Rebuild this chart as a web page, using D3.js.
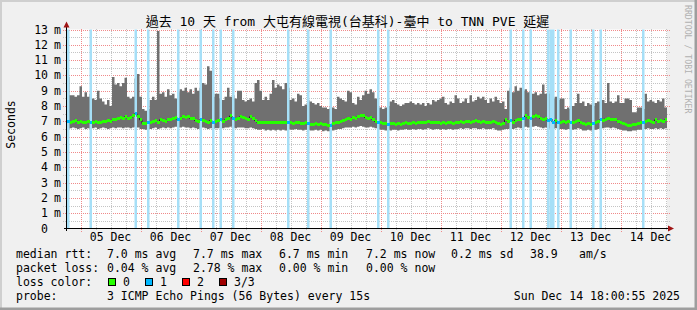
<!DOCTYPE html>
<html>
<head>
<meta charset="utf-8">
<script src="https://cdn.jsdelivr.net/npm/d3@7"></script>
<style>
body{margin:0;background:#f0f0f0}
svg text{font-family:"DejaVu Sans Mono","Noto Sans CJK TC",monospace;fill:#000}
</style>
</head>
<body>
<svg width="697" height="310"></svg>
<script>
// hourly smokeping values (ms), 240 hours
var topMs = [
 9.9,8.7,8.7,8.6,8.7,9.3,8.6,8.9,8.6,8.8, 8.5,8.4,9.0,8.5,8.3,8.1,8.4,8.0,9.9,9.4,
 9.5,9.3,9.5,9.85,8.6,8.5,8.6,9.8,10.1,8.6, 7.8,7.7,7.8,8.4,8.6,8.4,12.9,8.8,8.9,8.6,
 9.1,8.7,8.8,8.5,8.9,9.1,9.0,9.2,8.9,9.1, 8.8,9.2,9.0,9.2,9.5,9.4,10.6,10.3,8.6,8.8,
 8.8,8.5,8.4,8.6,9.2,8.6,8.7,8.5,9.0,9.0, 8.4,8.3,8.4,8.5,8.3,9.5,9.7,9.0,8.4,8.6,
 8.4,8.8,9.7,9.2,9.4,9.3,9.1,9.5,9.2,8.4, 8.5,8.3,8.8,8.7,8.0,8.1,8.4,8.3,8.2,8.1,
 8.2,8.0,7.9,7.9,7.8,7.9,7.9,7.8,8.6,8.5, 8.4,8.3,9.0,8.9,8.2,8.1,8.6,8.4,8.7,9.0,
 8.8,9.1,8.9,8.5,7.9,7.9,7.8,7.9,8.0,8.3, 8.4,8.2,8.1,8.0,8.1,8.2,8.2,8.3,8.2,8.1,
 8.2,8.1,8.2,8.0,8.2,8.1,8.4,8.3,8.4,8.5, 8.6,8.2,8.1,8.3,8.2,8.7,8.5,8.2,8.3,8.5,
 8.2,8.7,8.3,8.4,8.6,8.5,8.6,8.4,8.2,8.5, 8.3,8.6,8.4,8.2,8.3,7.8,9.0,9.2,8.9,9.3,
 9.0,9.2,9.0,9.1,8.9,9.0,8.8,8.9,8.7,8.8, 9.4,8.8,8.9,8.8,8.5,8.6,8.4,8.5,8.5,7.8,
 7.9,7.8,8.0,8.2,8.8,8.2,8.3,8.0,8.2,8.1, 8.0,8.2,8.3,8.3,8.4,8.2,9.5,8.3,8.2,8.3,
 8.7,8.2,8.2,8.5,8.5,8.4,7.6,7.6,7.9,7.9, 7.8,8.8,8.3,8.4,8.3,8.2,8.4,8.3,8.5,7.9
];
var medianMs = [
 7.0,6.95,7.0,7.05,6.95,7.0,6.9,6.95,7.0,6.9, 6.95,7.0,6.9,6.95,7.0,7.0,7.05,7.0,7.1,7.15,
 7.2,7.25,7.2,7.3,7.2,7.25,7.35,7.5,7.3,7.1, 6.85,6.85,6.9,6.9,7.0,7.05,6.95,7.1,7.05,7.0,
 7.1,7.15,7.2,7.25,7.1,7.2,7.3,7.25,7.3,7.2, 7.2,7.05,7.0,7.1,7.05,7.0,6.95,7.05,6.95,7.0,
 7.05,7.1,7.0,7.1,7.2,7.35,7.2,7.1,7.2,7.3, 7.25,7.2,7.1,7.3,7.2,7.05,6.9,6.9,6.95,6.9,
 6.9,6.95,6.9,6.9,6.9,6.95,6.9,6.9,6.95,6.9, 6.85,6.9,6.9,6.85,6.85,6.9,6.85,6.8,6.8,6.85,
 6.8,6.85,6.8,6.8,6.75,6.75,6.85,6.9,6.95,7.0, 7.05,7.1,7.2,7.15,7.25,7.2,7.3,7.35,7.4,7.25,
 7.2,7.25,7.1,7.0,6.95,6.9,6.85,6.85,6.8,6.85, 6.85,6.8,6.85,6.8,6.85,6.9,6.85,6.85,6.9,6.85,
 6.9,6.95,6.9,6.95,7.0,6.95,6.9,6.95,6.9,6.85, 6.9,6.85,6.9,6.9,6.85,6.9,6.95,7.0,6.95,7.0,
 7.0,6.95,7.0,7.05,7.0,6.95,7.0,6.95,6.9,6.95, 7.0,6.9,6.85,6.8,6.85,7.1,7.0,7.05,6.95,7.05,
 7.15,7.1,7.2,7.35,7.25,7.2,7.3,7.4,7.3,7.2, 7.1,7.2,7.05,7.15,6.95,7.05,6.9,6.95,7.0,6.9,
 7.0,6.95,6.9,7.0,7.05,6.95,6.85,6.8,6.85,6.8, 6.85,6.9,7.0,7.1,7.05,7.15,7.2,7.1,7.15,7.1,
 7.0,6.9,6.85,6.8,6.75,6.75,6.8,6.8,6.85,6.9, 6.95,7.0,7.05,7.0,6.95,7.1,7.0,7.05,7.0,7.1
];
var bottomMs = [
 6.5,6.55,6.6,6.55,6.5,6.55,6.6,6.5,6.55,6.5, 6.55,6.6,6.5,6.55,6.6,6.55,6.5,6.55,6.6,6.55,
 6.6,6.6,6.55,6.6,6.6,6.55,6.6,6.65,6.6,6.5, 6.5,6.45,6.5,6.5,6.55,6.6,6.5,6.55,6.6,6.55,
 6.6,6.55,6.6,6.65,6.6,6.6,6.65,6.6,6.6,6.55, 6.6,6.55,6.5,6.55,6.6,6.55,6.5,6.55,6.5,6.55,
 6.55,6.6,6.55,6.6,6.6,6.65,6.6,6.55,6.6,6.6, 6.6,6.55,6.55,6.6,6.55,6.5,6.45,6.45,6.5,6.4,
 6.45,6.4,6.45,6.4,6.45,6.4,6.45,6.4,6.5,6.45, 6.45,6.5,6.45,6.45,6.4,6.45,6.45,6.4,6.4,6.45,
 6.4,6.45,6.35,6.4,6.35,6.35,6.4,6.45,6.5,6.5, 6.55,6.6,6.6,6.6,6.65,6.6,6.65,6.7,6.65,6.6,
 6.6,6.65,6.6,6.55,6.5,6.45,6.45,6.4,6.45,6.4, 6.45,6.45,6.4,6.45,6.45,6.5,6.45,6.45,6.5,6.45,
 6.5,6.5,6.45,6.5,6.55,6.5,6.45,6.5,6.5,6.45, 6.5,6.45,6.5,6.5,6.45,6.5,6.5,6.55,6.5,6.55,
 6.55,6.5,6.55,6.55,6.5,6.5,6.55,6.5,6.5,6.5, 6.55,6.45,6.4,6.4,6.45,6.5,6.5,6.55,6.5,6.55,
 6.6,6.55,6.6,6.65,6.6,6.6,6.65,6.7,6.65,6.6, 6.55,6.6,6.5,6.55,6.5,6.55,6.45,6.5,6.5,6.45,
 6.5,6.5,6.45,6.5,6.55,6.5,6.4,6.4,6.45,6.4, 6.45,6.45,6.5,6.55,6.55,6.6,6.6,6.55,6.6,6.55,
 6.5,6.45,6.4,6.4,6.35,6.35,6.4,6.4,6.45,6.45, 6.5,6.5,6.55,6.5,6.5,6.55,6.5,6.55,6.5,6.55
];
// hours with 1 of 3 pings lost
var lossHours = [0,9,27,32,44,53,58,61,66,88,96,105,124,128,177,182,185,192,193,194,196,201,210,213,230];

var yTicks = [0,1,2,3,4,5,6,7,8,9,10,11,12,13];
var dayLabels = ["05 Dec","06 Dec","07 Dec","08 Dec","09 Dec","10 Dec","11 Dec","12 Dec","13 Dec","14 Dec"];

var rttStats = ["7.0 ms avg","7.7 ms max","6.7 ms min","7.2 ms now","0.2 ms sd"];
var lossStats = ["0.04 % avg","2.78 % max","0.00 % min","0.00 % now"];
var lossNames = ["0","1","2","3/3"];
var lossColors = ["#26ff00","#00b8ff","#ff0000","#a00000"];

var svg = d3.select("svg");
var W = 697, H = 310;

var t0 = new Date(2025,11,4,18,36);
var t1 = new Date(2025,11,14,18,36);
var hour = 3600*1000;
var x = d3.scaleTime().domain([t0,t1]).range([67,667]);
var y = d3.scaleLinear().domain([0,13]).range([228.5,29.5]);

// background + 3d frame
svg.append("rect").attr("width",W).attr("height",H).attr("fill","#f0f0f0");
svg.append("path").attr("d","M0,0H697V2H2V310H0Z").attr("fill","#cfcfcf");
svg.append("path").attr("d","M697,0V310H0V307.5H694.5V0Z").attr("fill","#9e9e9e");
svg.append("rect").attr("x",67).attr("y",29.5).attr("width",600).attr("height",199).attr("fill","#fff");

// grid
var grid = svg.append("g");
d3.range(1,27).forEach(function(k){
	var v = k/2, yy = Math.round(y(v))+0.5, major = (k%2==0);
	grid.append("line").attr("x1",63).attr("x2",670).attr("y1",yy).attr("y2",yy)
		.attr("stroke",major ? "#f08a8a" : "#c4c4c4")
		.attr("stroke-dasharray","1,1");
});
var d = new Date(2025,11,5,0,0);
for(; d <= t1; d = new Date(d.getTime()+6*hour)){
	var xx = Math.round(x(d))+0.5, major = d.getHours()==0;
	grid.append("line").attr("x1",xx).attr("x2",xx).attr("y1",29).attr("y2",major?232:231)
		.attr("stroke",major ? "#f08a8a" : "#c4c4c4")
		.attr("stroke-dasharray","1,1");
}

// smoke
var pts = topMs.map(function(v,i){return {t:new Date(t0.getTime()+i*hour),top:v,bot:bottomMs[i],med:medianMs[i]};});
var ptsEnd = pts.concat([{t:t1,top:topMs[239],bot:bottomMs[239],med:medianMs[239]}]);
svg.append("path").datum(ptsEnd)
	.attr("d",d3.area().curve(d3.curveStepAfter).x(p=>x(p.t)).y0(p=>y(p.bot)).y1(p=>y(p.top)))
	.attr("fill","#707070");

// loss background bars
var lossSet = {};
lossHours.forEach(h=>lossSet[h]=1);
svg.selectAll(".lossbg").data(lossHours).enter().append("rect")
	.attr("class","lossbg")
	.attr("x",h=>x(new Date(t0.getTime()+h*hour)))
	.attr("width",h=>x(new Date(t0.getTime()+(h+1)*hour))-x(new Date(t0.getTime()+h*hour)))
	.attr("y",29.5).attr("height",199)
	.attr("fill","#a6dff7");

// median
svg.append("path").datum(ptsEnd)
	.attr("d",d3.line().curve(d3.curveStepAfter).x(p=>x(p.t)).y(p=>y(p.med)))
	.attr("fill","none").attr("stroke","#202020").attr("stroke-width",1);
svg.selectAll(".med").data(pts).enter().append("rect")
	.attr("class","med")
	.attr("x",p=>x(p.t))
	.attr("width",p=>x(new Date(p.t.getTime()+hour))-x(p.t))
	.attr("y",p=>y(p.med)-1.5).attr("height",3)
	.attr("shape-rendering","crispEdges")
	.attr("fill",(p,i)=>lossSet[i] ? lossColors[1] : lossColors[0]);

// axes
svg.append("line").attr("x1",64).attr("x2",669).attr("y1",228.5).attr("y2",228.5).attr("stroke","#000");
svg.append("line").attr("x1",66.5).attr("x2",66.5).attr("y1",231).attr("y2",27).attr("stroke","#000");
svg.append("path").attr("d","M63.5,27.5L69.5,27.5L66.5,21.5Z").attr("fill","#a01515");
svg.append("path").attr("d","M668,225.5L668,231.5L674,228.5Z").attr("fill","#a01515");

// y labels
var yl = svg.append("g").style("font-size","11.5px");
yTicks.forEach(function(v){
	var yy = y(v)+4;
	yl.append("text").attr("x",48).attr("y",yy).attr("text-anchor","end").text(v);
	if(v>0) yl.append("text").attr("x",54).attr("y",yy).text("m");
});
// x labels at noon
svg.append("g").style("font-size","11.5px").selectAll("text").data(dayLabels).enter().append("text")
	.attr("x",(s,i)=>x(new Date(2025,11,5+i,12,0)))
	.attr("y",241)
	.attr("text-anchor","middle")
	.text(s=>s);

// titles
svg.append("text").attr("x",347.5).attr("y",25.5).attr("text-anchor","middle")
	.style("font-size","13px").text("過去 10 天 from 大屯有線電視(台基科)-臺中 to TNN PVE 延遲");
svg.append("text").attr("transform","translate(15,124.5) rotate(-90)").attr("text-anchor","middle")
	.style("font-size","11.5px").text("Seconds");
svg.append("text").attr("transform","translate(685,5) rotate(90)")
	.style("font-size","8.2px").style("fill","#b0b0b0").text("RRDTOOL / TOBI OETIKER");

// legend
var lg = svg.append("g").style("font-size","11.5px").attr("xml:space","preserve");
var colX = [107,193,279,366,451];
lg.append("text").attr("x",16).attr("y",257.5).text("median rtt:");
rttStats.forEach((s,i)=>lg.append("text").attr("x",colX[i]).attr("y",257.5).text(s));
lg.append("text").attr("x",530).attr("y",257.5).text("38.9");
lg.append("text").attr("x",579).attr("y",257.5).text("am/s");
lg.append("text").attr("x",16).attr("y",271.5).text("packet loss:");
lossStats.forEach((s,i)=>lg.append("text").attr("x",colX[i]).attr("y",271.5).text(s));
lg.append("text").attr("x",16).attr("y",285.5).text("loss color:");
var boxX = [108.5,145.5,182.5,219.5];
lossNames.forEach(function(s,i){
	lg.append("rect").attr("x",boxX[i]).attr("y",278.5).attr("width",7).attr("height",7)
		.attr("fill",lossColors[i]).attr("stroke","#000");
	lg.append("text").attr("x",boxX[i]+14.5).attr("y",285.5).text(s);
});
lg.append("text").attr("x",16).attr("y",299.5).text("probe:");
lg.append("text").attr("x",107).attr("y",299.5).text("3 ICMP Echo Pings (56 Bytes) every 15s");
lg.append("text").attr("x",680).attr("y",299.5).attr("text-anchor","end").text("Sun Dec 14 18:00:55 2025");
</script>
</body>
</html>
